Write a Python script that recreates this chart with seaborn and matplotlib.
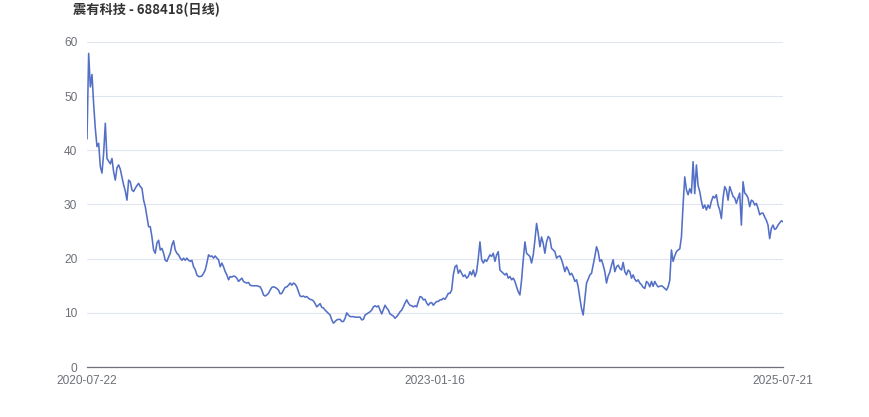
import numpy as np
import pandas as pd
import matplotlib
matplotlib.use('Agg')
import matplotlib.pyplot as plt
import seaborn as sns

sns.set_style('white')
plt.rcParams['font.family'] = ['Liberation Sans', 'Noto Sans CJK SC', 'DejaVu Sans']

## close price left to right (roughly every 2 trading days)
price_2020 = [42.1, 57.9, 51.7, 54.0, 48.5, 44.0, 40.7, 41.3, 37.0, 35.8,
              39.5, 45.0, 38.5, 38.0, 37.5, 38.5, 36.0, 34.5, 36.8, 37.3,
              36.5, 35.0, 33.6, 32.5, 30.8, 34.5, 34.2, 32.7, 32.4, 33.0,
              33.5, 33.9, 33.3, 33.0, 30.8, 29.6, 27.7, 25.9, 25.9, 24.0,
              21.6, 21.0, 22.9, 23.4, 21.6, 21.9, 21.0, 19.7, 19.5, 20.3,
              21.0, 22.5, 23.3, 21.6, 21.0, 20.7, 20.1, 19.7, 20.1, 19.7,
              20.1, 19.7, 19.5, 19.7, 18.5, 18.0]
price_2021 = [17.0, 16.7, 16.7, 16.8, 17.3, 17.9, 19.2, 20.7, 20.4, 20.5,
              20.1, 20.5, 20.1, 19.8, 18.5, 19.2, 18.5, 17.6, 17.0, 16.1,
              16.7, 16.6, 16.8, 16.7, 16.4, 15.8, 16.1, 16.4, 15.8, 15.6,
              15.5, 15.6, 15.1, 15.0, 15.0, 15.0, 15.0, 14.9, 14.8, 14.2,
              13.3, 13.1, 13.3, 13.6, 14.2, 14.7, 14.8, 14.7, 14.5, 14.2,
              13.5, 13.6, 14.2, 14.7, 14.8, 15.1, 15.5, 15.1, 15.5, 15.3,
              14.8, 13.9, 13.1, 13.0, 13.1, 12.9, 13.0, 12.7, 12.5, 12.4,
              12.2, 11.7, 11.1, 11.4, 11.7]
price_2022 = [11.0, 10.9, 10.5, 10.2, 9.9, 9.6, 8.7, 8.1, 8.4, 8.7,
              8.8, 8.8, 8.4, 8.4, 9.0, 10.0, 9.6, 9.3, 9.3, 9.3,
              9.2, 9.2, 9.2, 9.2, 8.7, 8.8, 9.6, 9.8, 10.0, 10.2,
              10.5, 11.1, 11.3, 11.1, 11.3, 10.5, 9.8, 10.6, 11.4, 10.9,
              10.5, 9.8, 9.6, 9.4, 9.0, 9.3, 9.7, 10.2, 10.5, 11.1,
              11.8, 12.4, 11.8, 11.4, 11.3, 11.1, 11.3, 11.1, 12.1, 13.0,
              12.9, 12.4, 12.5, 11.8, 11.4, 11.8, 11.9, 11.4, 11.8, 12.1,
              12.1, 12.4]
price_2023 = [12.4, 12.7, 12.5, 13.0, 13.6, 13.6, 14.2, 17.0, 18.5, 18.8,
              17.3, 17.9, 17.3, 16.7, 17.0, 16.4, 16.7, 17.6, 17.0, 17.9,
              16.7, 17.6, 20.1, 23.1, 19.8, 19.2, 19.8, 19.5, 20.1, 20.7,
              20.4, 21.0, 19.5, 20.7, 21.3, 17.9, 17.6, 17.3, 17.0, 17.3,
              16.4, 16.7, 16.1, 16.4, 15.8, 14.8, 13.9, 13.3, 16.1, 19.8,
              23.1, 21.0, 20.7, 20.4, 19.2, 20.7, 23.4, 26.5, 24.6, 22.2,
              24.0, 22.8, 21.0, 23.1, 24.1, 23.7]
price_2024 = [21.9, 21.6, 21.3, 20.1, 20.4, 20.5, 19.8, 18.8, 17.6, 18.5,
              17.9, 17.0, 17.3, 16.7, 15.8, 16.1, 14.8, 12.7, 10.8, 9.6,
              12.5, 15.5, 16.2, 17.0, 17.3, 18.8, 20.4, 22.2, 21.3, 19.5,
              19.8, 18.8, 17.6, 15.5, 16.8, 17.5, 18.8, 19.8, 17.6, 18.5,
              18.8, 18.2, 17.9, 19.3, 17.6, 17.0, 17.9, 17.6, 16.4, 17.0,
              16.2, 15.8, 16.1, 15.5, 15.2, 14.7, 14.5, 15.8, 15.5, 14.8,
              15.8, 14.9, 15.8, 15.2, 14.8, 14.9]
price_2025 = [15.0, 14.8, 14.5, 14.2, 14.8, 16.0, 21.6, 19.5, 20.5, 21.3,
              21.6, 21.8, 24.0, 30.0, 35.1, 32.7, 31.8, 32.9, 32.1, 37.9,
              32.0, 37.3, 33.5, 32.4, 30.6, 29.3, 29.9, 29.0, 29.9, 29.3,
              30.6, 31.5, 31.2, 31.8, 29.9, 29.0, 27.4, 31.2, 33.3, 32.7,
              30.8, 33.3, 32.4, 31.5, 31.2, 30.2, 31.2, 32.1, 26.2, 34.2,
              32.1, 31.8, 31.2, 29.6, 30.8, 30.6, 29.9, 30.2, 29.3, 28.1,
              28.4, 28.4, 27.7, 27.1, 26.2, 23.7, 25.6, 26.2, 25.4, 25.6,
              26.2, 26.6, 27.0, 26.8]

date_labels = ['2020-07-22', '2023-01-16', '2025-07-21']
title = '震有科技 - 688418(日线)'

prices = price_2020 + price_2021 + price_2022 + price_2023 + price_2024 + price_2025
df = pd.DataFrame({'idx': np.arange(len(prices)), 'close': prices})
n = len(df)

fig = plt.figure(figsize=(8.7, 4.17), dpi=100)
ax = fig.add_axes([87/870, 1 - 367/417, (783 - 87)/870, (367 - 42)/417])

sns.lineplot(data=df, x='idx', y='close', ax=ax, color='#5470c6', linewidth=1.15)

ax.set_xlim(0, n - 1)
ax.set_ylim(0, 60)
ax.set_yticks([0, 10, 20, 30, 40, 50, 60])
ax.set_xticks([0, (n - 1) / 2, n - 1])
ax.set_xticklabels(date_labels)
ax.set_xlabel('')
ax.set_ylabel('')

ax.grid(axis='y', color='#e0e6f1', linewidth=0.8)
ax.set_axisbelow(True)
for s in ['top', 'right', 'left']:
    ax.spines[s].set_visible(False)
ax.spines['bottom'].set_color('#6e7079')
ax.spines['bottom'].set_linewidth(0.9)
ax.tick_params(axis='both', length=0, labelsize=8.6, labelcolor='#6e7079')
ax.tick_params(axis='y', pad=7)
ax.tick_params(axis='x', pad=5.5)

fig.text(73/870, 1 - 3/417, title, ha='left', va='top', fontsize=9.5,
         fontweight='bold', color='#333333',
         family=['Noto Sans CJK SC', 'DejaVu Sans'])

fig.savefig('out.png', dpi=100)
